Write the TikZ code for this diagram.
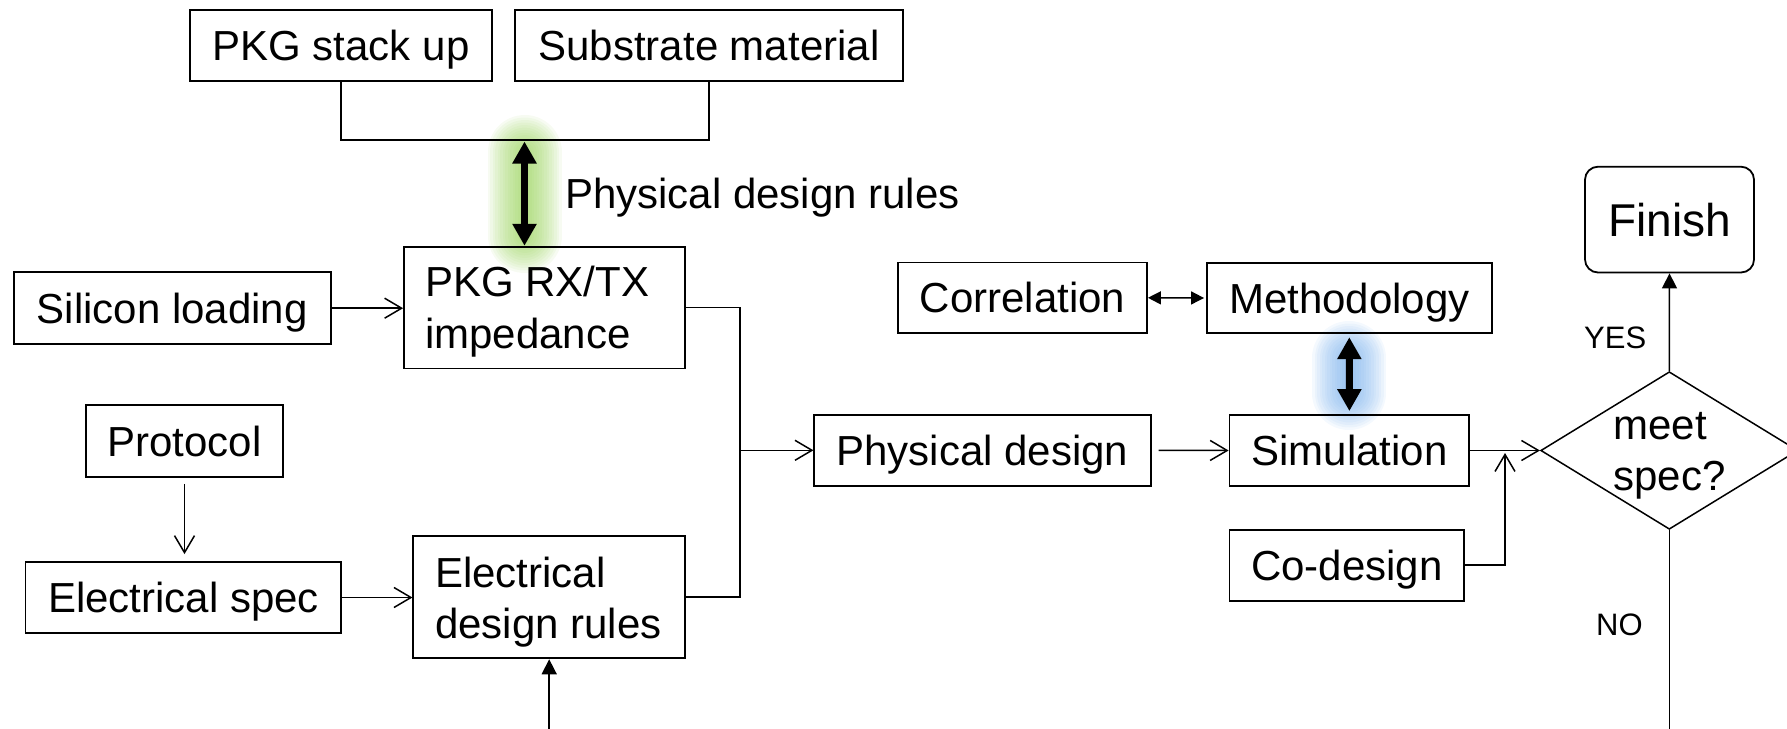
\documentclass[tikz,border=0pt]{standalone}
\usepackage{fontspec}
\setmainfont{Liberation Sans}
\usetikzlibrary{arrows.meta,shapes.geometric}
\definecolor{glowgreen}{RGB}{146,208,80}
\definecolor{glowblue}{RGB}{110,170,235}
\tikzset{
  fnt/.style={font=\fontsize{42}{50}\selectfont},
  box/.style={draw, line width=1.8pt, inner sep=0pt, text height=30pt, text depth=0pt, fnt},
  lbl/.style={inner sep=0pt, anchor=base west, fnt},
  smalllbl/.style={inner sep=0pt, anchor=base west, font=\fontsize{31}{37}\selectfont},
  conn/.style={line width=1.5pt},
  openarr/.style={conn, -{Straight Barb[length=17pt,width=20pt]}},
  filltip/.style={conn, -{Triangle[length=15pt,width=15pt]}},
  bigarrow/.style={line width=7pt, {Triangle[length=22pt,width=23pt]}-{Triangle[length=22pt,width=23pt]}},
  glowline/.style={line cap=round, opacity=0.075}
}
\begin{document}
\begin{tikzpicture}[x=1pt,y=-1pt]
\useasboundingbox (0,0) rectangle (1787,728);
\clip (0,0) rectangle (1787,728);

% glows
\foreach \w in {74,69,...,9} {
  \draw[glowline, glowgreen, line width=\w pt] (524.5,152) -- (524.5,236);
  \draw[glowline, glowblue, line width=\w pt] (1349,358) -- (1349,393);
}

% boxes
\node[box, minimum width=302pt, minimum height=71pt] (stack) at (341,45.5) {PKG stack up};
\node[box, minimum width=388pt, minimum height=71pt] (subst) at (709,45.5) {Substrate material};
\node[box, minimum width=316.7pt, minimum height=71.7pt] (sil) at (172.3,308.2) {Silicon loading};
\node[box, minimum width=281pt, minimum height=121.8pt] (pkg) at (544.5,307.6) {};
\node[box, minimum width=197pt, minimum height=72pt] (prot) at (184.5,441) {Protocol};
\node[box, minimum width=315.7pt, minimum height=71pt] (espec) at (183.4,597.5) {Electrical spec};
\node[box, minimum width=271.7pt, minimum height=122.3pt] (edr) at (549.2,597.2) {};
\node[box, minimum width=336.3pt, minimum height=71pt] (pd) at (982.5,450.3) {Physical design};
\node[box, minimum width=249.2pt, minimum height=70.8pt] (corr) at (1022.4,297.8) {Correlation};
\node[box, minimum width=284.7pt, minimum height=70.6pt] (meth) at (1349.3,298) {Methodology};
\node[box, minimum width=239.8pt, minimum height=71pt] (sim) at (1349.4,450.5) {Simulation};
\node[box, minimum width=234.8pt, minimum height=71pt] (cod) at (1346.9,565.2) {Co-design};
\node[box, rounded corners=13pt, minimum width=169pt, minimum height=105.8pt, text height=33pt, font=\fontsize{46}{54}\selectfont] (fin) at (1669.5,219.6) {Finish};
\node[diamond, draw, line width=1.5pt, inner sep=0pt, minimum width=257.2pt, minimum height=157.6pt] (dia) at (1669.3,450.5) {};

% texts
\node[lbl] (pdr) at (565,208.3) {Physical design rules};
\node[lbl] (pkg1) at (425,296.7) {PKG RX/TX};
\node[lbl] (pkg2) at (425,348) {impedance};
\node[lbl] (edr1) at (435,587.3) {Electrical};
\node[lbl] (edr2) at (435,638.3) {design rules};
\node[lbl] (dia1) at (1613.3,439.3) {meet};
\node[lbl] (dia2) at (1613.3,490) {spec?};
\node[smalllbl] (yes) at (1584,348.3) {YES};
\node[smalllbl] (no) at (1596,635.7) {NO};

% coordinates
\coordinate (brm) at (524.5,140);
\coordinate (jx) at (740,450.3);
\coordinate (cj) at (1505,453);
\coordinate (nob) at (1669.3,732);
\coordinate (edrb) at (549.2,732);

% connectors
\draw[conn] (stack.south) |- (brm) -| (subst.south);
\draw[bigarrow, shorten <=1.5pt] (brm) -- (brm |- pkg.north);
\draw[bigarrow, shorten <=3pt, shorten >=3pt] (meth.south) -- (sim.north);
\draw[openarr] (sil.east) -- (sil.east -| pkg.west);
\draw[openarr, shorten <=6pt, shorten >=7pt] (prot.south) -- (prot.south |- espec.north);
\draw[openarr] (espec.east) -- (espec.east -| edr.west);
\draw[conn] (pkg.east) -| (jx) |- (edr.east);
\draw[openarr] (jx) -- (pd.west);
\draw[openarr, shorten <=7pt] (pd.east) -- (sim.west);
\draw[openarr] (sim.east) -- (dia.west);
\draw[openarr] (cod.east) -| (cj);
\draw[conn, {Triangle[length=13pt,width=13pt]}-{Triangle[length=13pt,width=13pt]}, shorten >=2pt] (corr.east) -- (meth.west);
\draw[filltip] (dia.north) -- (fin.south);
\draw[conn] (dia.south) -- (nob);
\draw[filltip] (edrb) -- (edr.south);
\end{tikzpicture}
\end{document}
